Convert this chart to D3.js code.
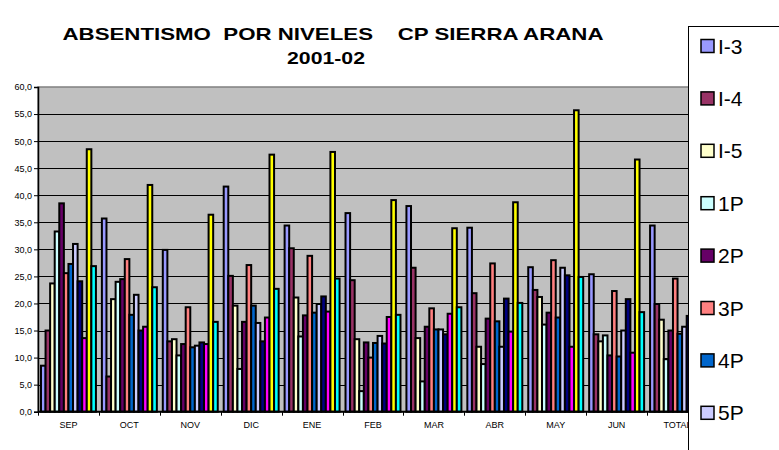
<!DOCTYPE html>
<html>
<head>
<meta charset="utf-8">
<script src="https://cdn.jsdelivr.net/npm/d3@7"></script>
<style>
  body { margin: 0; background: #fff; }
  svg { display: block; font-family: Arial, "Liberation Sans", sans-serif; }
</style>
</head>
<body>
<script>
var width = 779,
    height = 450;

// meses
var categories = ["SEP", "OCT", "NOV", "DIC", "ENE", "FEB", "MAR", "ABR", "MAY", "JUN", "TOTAL"];

// niveles (only the first 8 fit in the visible legend)
var series = ["I-3", "I-4", "I-5", "1P", "2P", "3P", "4P", "5P", "6P", "E.E.", "A.L.", "P.T."];

var colors = ["#9999FF", "#993366", "#FFFFCC", "#CCFFFF", "#660066", "#FF8080",
              "#0066CC", "#CCCCFF", "#000080", "#FF00FF", "#FFFF00", "#00FFFF"];

var valI3  = [8.5, 35.7, 29.9, 41.6, 34.4, 36.7, 38.0, 34.0, 26.7, 25.4, 34.4];
var valI4  = [15.0, 6.5, 13.0, 25.1, 30.2, 24.3, 26.6, 21.9, 22.5, 14.3, 19.9];
var valI5  = [23.7, 20.8, 13.4, 19.6, 21.1, 13.4, 13.6, 12.0, 21.2, 13.0, 17.0];
var val1P  = [33.3, 24.0, 10.4, 7.9, 13.9, 3.8, 5.6, 8.8, 16.1, 14.1, 9.7];
var val2P  = [38.5, 24.5, 12.5, 16.6, 17.8, 12.8, 15.7, 17.2, 18.3, 10.4, 15.0];
var val3P  = [25.6, 28.2, 19.3, 27.1, 28.8, 10.0, 19.1, 27.4, 28.0, 22.3, 24.6];
var val4P  = [27.3, 17.9, 11.9, 19.6, 18.3, 12.7, 15.2, 16.7, 17.4, 10.2, 14.4];
var val5P  = [31.0, 21.6, 12.2, 16.4, 19.9, 14.0, 15.2, 12.0, 26.6, 15.0, 15.7];
var val6P  = [24.1, 15.0, 12.8, 13.0, 21.3, 12.6, 14.3, 20.9, 25.2, 20.8, 17.7];
var valEE  = [13.6, 15.7, 12.5, 17.4, 18.5, 17.5, 18.1, 14.8, 12.0, 10.9, 15.0];
var valAL  = [48.5, 41.9, 36.4, 47.5, 48.0, 39.1, 33.9, 38.7, 55.7, 46.6, 43.6];
var valPT  = [26.9, 23.0, 16.6, 22.7, 24.6, 17.9, 19.3, 20.1, 24.9, 18.4, 21.4];

var values = [valI3, valI4, valI5, val1P, val2P, val3P, val4P, val5P, val6P, valEE, valAL, valPT];

var yTicks = d3.range(0, 61, 5);

var plot = { left: 38, right: 708, top: 87, bottom: 411.7 };

var svg = d3.select("body")
    .append("svg")
    .attr("width", width)
    .attr("height", height);

var x0 = d3.scaleBand()
    .domain(categories)
    .range([plot.left, plot.right]);

var x1 = d3.scaleBand()
    .domain(series)
    .range([0, x0.bandwidth()])
    .paddingOuter(0.65);

var y = d3.scaleLinear()
    .domain([0, 60])
    .range([plot.bottom, plot.top]);

// plot area
svg.append("rect")
    .attr("x", plot.left)
    .attr("y", plot.top)
    .attr("width", plot.right - plot.left)
    .attr("height", plot.bottom - plot.top)
    .style("fill", "#C0C0C0")
    .style("stroke", "#808080")
    .style("stroke-width", 1.5);

// gridlines
svg.append("g")
    .selectAll("line")
    .data(yTicks.slice(1, -1))
    .enter().append("line")
    .attr("x1", plot.left)
    .attr("x2", plot.right)
    .attr("y1", function (d) { return Math.round(y(d)) + 0.5; })
    .attr("y2", function (d) { return Math.round(y(d)) + 0.5; })
    .style("stroke", "#000")
    .style("stroke-width", 1);

// bars
var bars = [];
series.forEach(function (s, i) {
    categories.forEach(function (c, j) {
        bars.push({ serie: s, cat: c, value: values[i][j], color: colors[i] });
    });
});

svg.append("g")
    .selectAll("rect")
    .data(bars)
    .enter().append("rect")
    .attr("x", function (d) { return x0(d.cat) + x1(d.serie); })
    .attr("y", function (d) { return y(d.value); })
    .attr("width", x1.bandwidth())
    .attr("height", function (d) { return y(0) - y(d.value); })
    .style("fill", function (d) { return d.color; })
    .style("stroke", "#000")
    .style("stroke-width", 2);

// y axis
var yAxis = d3.axisLeft(y)
    .tickValues(yTicks)
    .tickSize(4)
    .tickFormat(function (d) { return d.toFixed(1).replace(".", ","); });

svg.append("g")
    .attr("transform", "translate(" + plot.left + ",0)")
    .call(yAxis)
    .call(function (g) {
        g.select(".domain").style("stroke", "#000").style("stroke-width", 1.5);
        g.selectAll("text")
            .attr("x", -6)
            .style("font-size", "9px")
            .style("font-family", "Arial, 'Liberation Sans', sans-serif")
            .style("fill", "#000");
    });

// x axis: line, boundary ticks, centered labels
var xg = svg.append("g");

xg.append("line")
    .attr("x1", plot.left)
    .attr("x2", plot.right)
    .attr("y1", plot.bottom)
    .attr("y2", plot.bottom)
    .style("stroke", "#000")
    .style("stroke-width", 2);

xg.selectAll(".tick")
    .data(categories.concat([null]))
    .enter().append("line")
    .attr("class", "tick")
    .attr("x1", function (d) { return d ? Math.round(x0(d)) + 0.5 : plot.right; })
    .attr("x2", function (d) { return d ? Math.round(x0(d)) + 0.5 : plot.right; })
    .attr("y1", plot.bottom)
    .attr("y2", plot.bottom + 4)
    .style("stroke", "#000");

xg.selectAll("text")
    .data(categories)
    .enter().append("text")
    .attr("x", function (d) { return x0(d) + x0.bandwidth() / 2; })
    .attr("y", 428)
    .attr("text-anchor", "middle")
    .style("font-size", "9px")
    .text(function (d) { return d; });

// title
svg.append("text")
    .attr("x", 333)
    .attr("y", 40)
    .attr("text-anchor", "middle")
    .attr("textLength", 541)
    .attr("lengthAdjust", "spacingAndGlyphs")
    .style("font-size", "17px")
    .style("font-weight", "bold")
    .style("white-space", "pre")
    .text("ABSENTISMO  POR NIVELES    CP SIERRA ARANA");

svg.append("text")
    .attr("x", 326)
    .attr("y", 64)
    .attr("text-anchor", "middle")
    .attr("textLength", 78)
    .attr("lengthAdjust", "spacingAndGlyphs")
    .style("font-size", "17px")
    .style("font-weight", "bold")
    .text("2001-02");

// legend box runs off the right/bottom edge like the original;
// only the entries that fit inside the window are drawn
var legend = svg.append("g");

legend.append("rect")
    .attr("x", 688.5)
    .attr("y", 26.5)
    .attr("width", 120)
    .attr("height", 700)
    .style("fill", "#fff")
    .style("stroke", "#000")
    .style("stroke-width", 1);

var item = legend.selectAll(".item")
    .data(series.filter(function (d, i) { return 53.5 + i * 52.4 < height; }))
    .enter().append("g")
    .attr("class", "item")
    .attr("transform", function (d, i) { return "translate(0," + (i * 52.4) + ")"; });

item.append("rect")
    .attr("x", 701)
    .attr("y", 39.5)
    .attr("width", 13)
    .attr("height", 13)
    .style("fill", function (d, i) { return colors[i]; })
    .style("stroke", "#000")
    .style("stroke-width", 1.5);

item.append("text")
    .attr("x", 718)
    .attr("y", 53.5)
    .style("font-size", "21px")
    .text(function (d) { return d; });
</script>
</body>
</html>
